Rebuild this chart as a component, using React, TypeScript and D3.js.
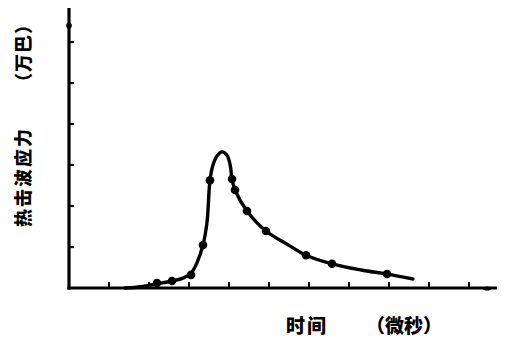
import React, { useEffect, useRef } from 'react';
import * as d3 from 'd3';

// measured points (time in tick units, stress in tick units)
const pointTime = [2.2, 2.575, 3.05, 3.35, 3.525, 4.075, 4.15, 4.45, 4.925, 5.925, 6.575, 7.95];
const pointStress = [0.12, 0.17, 0.32, 1.05, 2.63, 2.66, 2.39, 1.88, 1.39, 0.8, 0.59, 0.34];

// fitted curve
const curveTime = [1.4, 1.8, 2.2, 2.575, 2.85, 3.05, 3.2, 3.35, 3.45, 3.525, 3.6, 3.7, 3.825, 3.95, 4.03, 4.075, 4.15, 4.45, 4.925, 5.5, 5.925, 6.575, 7.3, 7.95, 8.6];
const curveStress = [0.0, 0.03, 0.1, 0.17, 0.24, 0.36, 0.62, 1.05, 1.6, 2.63, 3.0, 3.22, 3.32, 3.24, 3.0, 2.66, 2.39, 1.88, 1.39, 1.04, 0.8, 0.59, 0.44, 0.34, 0.22];

const xTicks = [1, 2, 3, 4, 5, 6, 7, 8, 9, 10];
const yTicks = [1, 2, 3, 4, 5, 6];

const W = 507;
const H = 342;

export default function App() {
  const ref = useRef<SVGSVGElement>(null);

  useEffect(() => {
    const svg = d3.select(ref.current);
    svg.selectAll('*').remove();

    const x = d3.scaleLinear().domain([0, 10.7]).range([69, 497]);
    const y = d3.scaleLinear().domain([0, 6.83]).range([288, 8]);

    const g = svg.append('g');

    // axes
    g.append('line')
      .attr('x1', x(0)).attr('x2', x(0))
      .attr('y1', y(0) + 1.5).attr('y2', y(6.83))
      .attr('stroke', '#000').attr('stroke-width', 3.2);
    g.append('line')
      .attr('x1', x(0) - 1.5).attr('x2', x(10.7))
      .attr('y1', y(0)).attr('y2', y(0))
      .attr('stroke', '#000').attr('stroke-width', 3);

    g.selectAll('.yt')
      .data(yTicks)
      .enter()
      .append('line')
      .attr('x1', x(0)).attr('x2', x(0) + 5)
      .attr('y1', (d) => y(d)).attr('y2', (d) => y(d))
      .attr('stroke', '#000').attr('stroke-width', 2.2);

    g.selectAll('.xt')
      .data(xTicks)
      .enter()
      .append('line')
      .attr('x1', (d) => x(d)).attr('x2', (d) => x(d))
      .attr('y1', y(0)).attr('y2', y(0) - 6)
      .attr('stroke', '#000').attr('stroke-width', 2);

    // small blobs on the axes
    g.append('circle').attr('cx', x(0)).attr('cy', y(6.4)).attr('r', 2.8).attr('fill', '#000');
    g.append('ellipse').attr('cx', x(10.45)).attr('cy', y(0) + 0.5).attr('rx', 4).attr('ry', 2).attr('fill', '#000');

    // curve
    const line = d3
      .line<number>()
      .x((d, i) => x(curveTime[i]))
      .y((d) => y(d))
      .curve(d3.curveCatmullRom.alpha(0.5));

    g.append('path')
      .attr('d', line(curveStress))
      .attr('fill', 'none')
      .attr('stroke', '#000')
      .attr('stroke-width', 3.4)
      .attr('stroke-linecap', 'round');

    g.selectAll('.pt')
      .data(pointStress)
      .enter()
      .append('circle')
      .attr('cx', (d, i) => x(pointTime[i]))
      .attr('cy', (d) => y(d))
      .attr('r', 4.3)
      .attr('fill', '#000');

    const font = '"Noto Sans CJK SC", "Noto Sans CJK JP", sans-serif';

    // axis titles
    svg.append('text')
      .attr('transform', `translate(${30},${227}) rotate(-90)`)
      .attr('font-family', font)
      .attr('font-weight', 900)
      .attr('font-size', 18)
      .attr('letter-spacing', 2)
      .text('热击波应力');
    svg.append('text')
      .attr('transform', `translate(${30},${91}) rotate(-90)`)
      .attr('font-family', font)
      .attr('font-weight', 900)
      .attr('font-size', 18)
      .attr('letter-spacing', 1)
      .text('（万巴）');

    svg.append('text')
      .attr('x', 286).attr('y', 333)
      .attr('font-family', font)
      .attr('font-weight', 900)
      .attr('font-size', 19)
      .attr('letter-spacing', 2)
      .text('时间');
    svg.append('text')
      .attr('x', 366).attr('y', 333)
      .attr('font-family', font)
      .attr('font-weight', 900)
      .attr('font-size', 19)
      .text('（微秒）');
  }, []);

  return (
    <svg
      ref={ref}
      width={W}
      height={H}
      style={{ position: 'absolute', left: 0, top: 0, background: '#fff' }}
    />
  );
}
